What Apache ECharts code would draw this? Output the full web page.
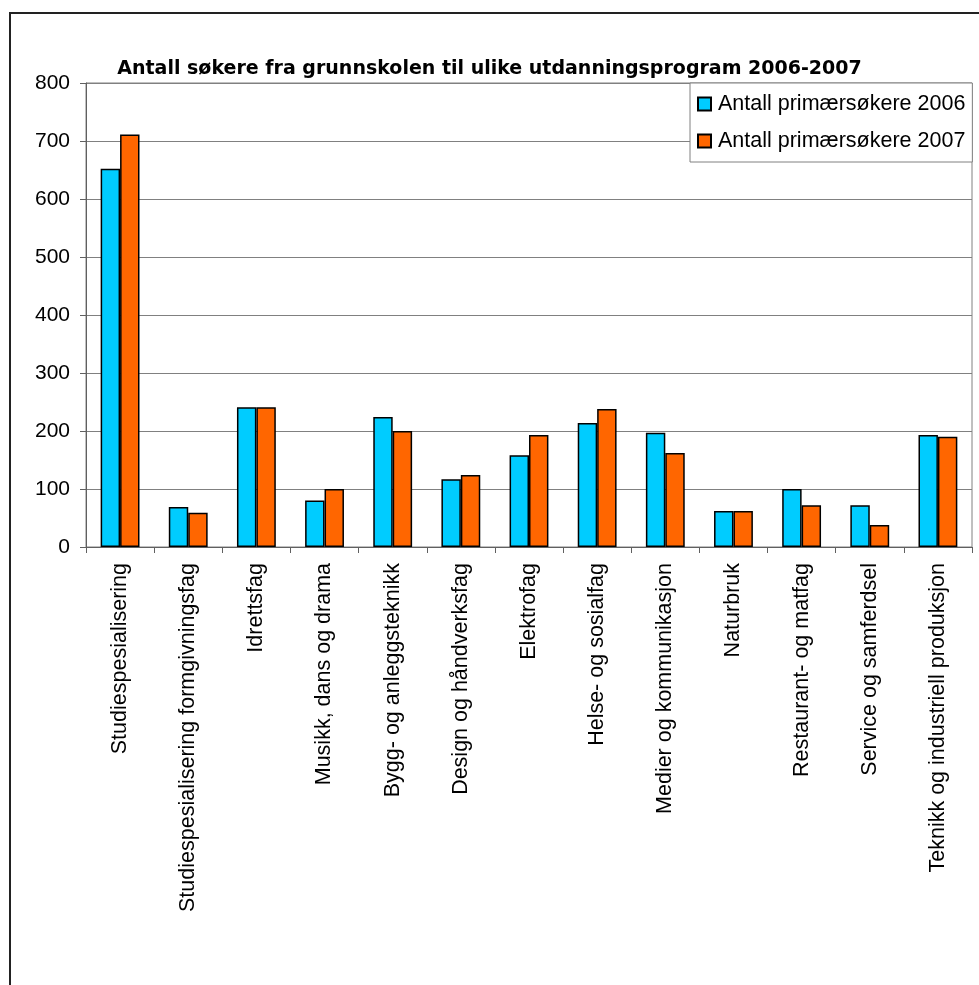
<!DOCTYPE html>
<html>
<head>
<meta charset="utf-8">
<script src="https://cdn.jsdelivr.net/npm/echarts@6/dist/echarts.min.js"></script>
<style>
html,body{margin:0;padding:0;background:#fff;}
#chart{width:979px;height:985px;}
</style>
</head>
<body>
<div id="chart"></div>
<script>
var categories = [
  'Studiespesialisering',
  'Studiespesialisering formgivningsfag',
  'Idrettsfag',
  'Musikk, dans og drama',
  'Bygg- og anleggsteknikk',
  'Design og håndverksfag',
  'Elektrofag',
  'Helse- og sosialfag',
  'Medier og kommunikasjon',
  'Naturbruk',
  'Restaurant- og matfag',
  'Service og samferdsel',
  'Teknikk og industriell produksjon'
];
var seriesNames = ['Antall primærsøkere 2006', 'Antall primærsøkere 2007'];
var values2006 = [652, 69, 241, 80, 224, 117, 158, 214, 197, 62, 100, 72, 193];
var values2007 = [711, 59, 241, 100, 200, 124, 193, 238, 162, 62, 72, 38, 190];
var yTicks = {min: 0, max: 800, interval: 100};
var titleText = 'Antall søkere fra grunnskolen til ulike utdanningsprogram 2006-2007';

var chart = echarts.init(document.getElementById('chart'));
chart.setOption({
  backgroundColor: '#fff',
  animation: false,
  title: {
    text: titleText,
    left: 'center',
    top: 55,
    textStyle: {fontFamily: 'DejaVu Sans', fontWeight: 'bold', fontSize: 19, color: '#000'}
  },
  legend: {
    orient: 'vertical',
    left: 690,
    top: 83,
    padding: [10, 7, 10, 7],
    itemGap: 15,
    itemWidth: 13,
    itemHeight: 13,
    icon: 'rect',
    borderColor: '#808080',
    borderWidth: 1,
    backgroundColor: '#fff',
    textStyle: {fontFamily: 'Liberation Sans', fontSize: 21.5, color: '#000', padding: [0, 0, 0, 2]},
    data: seriesNames
  },
  grid: {
    left: 86, right: 7, top: 83, bottom: 438,
    show: true, borderColor: '#808080', borderWidth: 1
  },
  xAxis: {
    type: 'category',
    data: categories,
    axisLine: {lineStyle: {color: '#606060', width: 1}},
    axisTick: {show: true, alignWithLabel: false, length: 6, lineStyle: {color: '#606060'}},
    axisLabel: {rotate: 90, interval: 0, margin: 16, fontFamily: 'Liberation Sans', fontSize: 21.5, color: '#000'}
  },
  yAxis: {
    type: 'value',
    min: yTicks.min, max: yTicks.max, interval: yTicks.interval,
    axisLine: {show: true, lineStyle: {color: '#606060', width: 1}},
    axisTick: {show: true, length: 6, lineStyle: {color: '#606060'}},
    axisLabel: {margin: 16, fontFamily: 'Liberation Sans', fontSize: 21, color: '#000'},
    splitLine: {lineStyle: {color: '#808080', width: 1}}
  },
  graphic: [{
    type: 'rect', silent: true, z: 100,
    shape: {x: 10, y: 13, width: 1000, height: 1000},
    style: {fill: 'none', stroke: '#222', lineWidth: 2}
  }],
  series: [{
    name: seriesNames[0], type: 'bar', data: values2006,
    barGap: '0%', barCategoryGap: '43%',
    itemStyle: {color: '#00CCFF', borderColor: '#000', borderWidth: 1.5}
  }, {
    name: seriesNames[1], type: 'bar', data: values2007,
    barGap: '0%', barCategoryGap: '43%',
    itemStyle: {color: '#FF6600', borderColor: '#000', borderWidth: 1.5}
  }]
});
</script>
</body>
</html>
